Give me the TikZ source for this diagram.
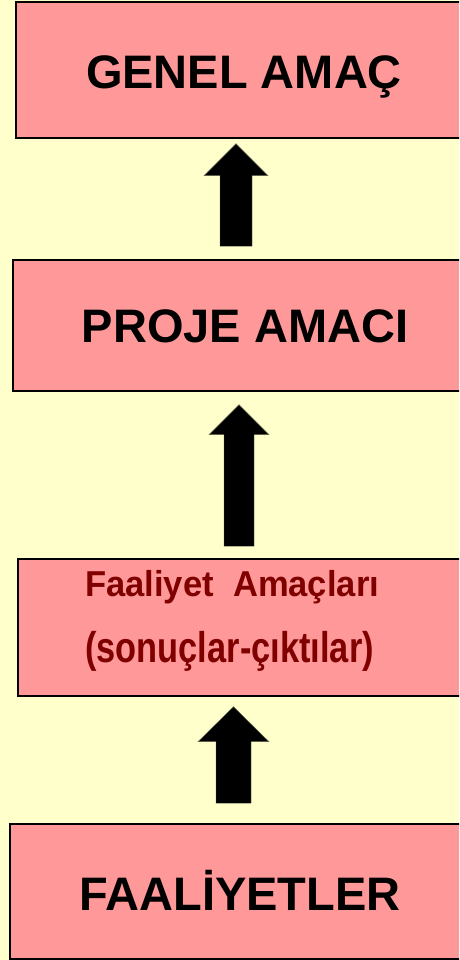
\documentclass[tikz,border=0pt]{standalone}
\usepackage{fontspec}
\setmainfont{Liberation Sans}
\usetikzlibrary{calc}
\definecolor{bgyellow}{HTML}{FFFFCC}
\definecolor{boxpink}{HTML}{FF9999}
\definecolor{maroontext}{HTML}{800000}
\tikzset{
  levelbox/.style={draw=black, line width=1.5pt, fill=boxpink, rectangle, inner sep=0pt,
    font=\fontsize{47}{56}\selectfont\bfseries, text depth=0pt},
  blockarrow/.style n args={3}{fill=black, draw=black!60!bgyellow, line width=0.4pt, line join=miter,
    to path={let \p1=(\tikztostart), \p2=(\tikztotarget) in
      (\x1-#1/2,\y1) -- (\x1+#1/2,\y1) -- (\x1+#1/2,\y2-#3) -- (\x1+#2/2,\y2-#3)
      -- (\x1,\y2) -- (\x1-#2/2,\y2-#3) -- (\x1-#1/2,\y2-#3) -- cycle}},
  subtext/.style={anchor=base west, inner sep=0pt, text=maroontext}
}
\begin{document}
\begin{tikzpicture}[x=1pt,y=1pt]
\useasboundingbox (0,0) rectangle (459,960);
\fill[bgyellow] (0,0) rectangle (459,960);
\clip (0,0) rectangle (459,960);

\node[levelbox, minimum width=456pt, minimum height=136pt, text height=38pt] (genel) at (244,890) {GENEL AMAÇ};
\node[levelbox, minimum width=464pt, minimum height=131pt, text height=35pt] (proje) at (245,634.5) {PROJE AMACI};
\node[levelbox, minimum width=452pt, minimum height=137pt] (faamac) at (244,332.5) {};
\node[levelbox, minimum width=460pt, minimum height=135pt, text height=39pt] (faal) at (240,68.5) {FAALİYETLER};

\node[subtext, font=\fontsize{36}{42}\selectfont\bfseries] (fa1) at (85,363) {\scalebox{0.96}[1]{Faaliyet\ \ Amaçları}};
\node[subtext, font=\fontsize{43}{50}\selectfont\bfseries] (fa2) at (85,297) {\scalebox{0.8}[1]{(sonuçlar-çıktılar)}};

\coordinate (ax1) at (236,0);
\coordinate (ax2) at (239,0);
\coordinate (ax3) at (233.5,0);
\coordinate (a1s) at ([yshift=13pt]ax1 |- proje.north);
\coordinate (a1e) at ([yshift=-5pt]ax1 |- genel.south);
\coordinate (a2s) at ([yshift=12pt]ax2 |- faamac.north);
\coordinate (a2e) at ([yshift=-13pt]ax2 |- proje.south);
\coordinate (a3s) at ([yshift=20pt]ax3 |- faal.north);
\coordinate (a3e) at ([yshift=-10pt]ax3 |- faamac.south);

\path[blockarrow={32pt}{64pt}{32pt}] (a1s) to (a1e);
\path[blockarrow={30pt}{60pt}{30pt}] (a2s) to (a2e);
\path[blockarrow={35pt}{71pt}{35pt}] (a3s) to (a3e);
\end{tikzpicture}
\end{document}
